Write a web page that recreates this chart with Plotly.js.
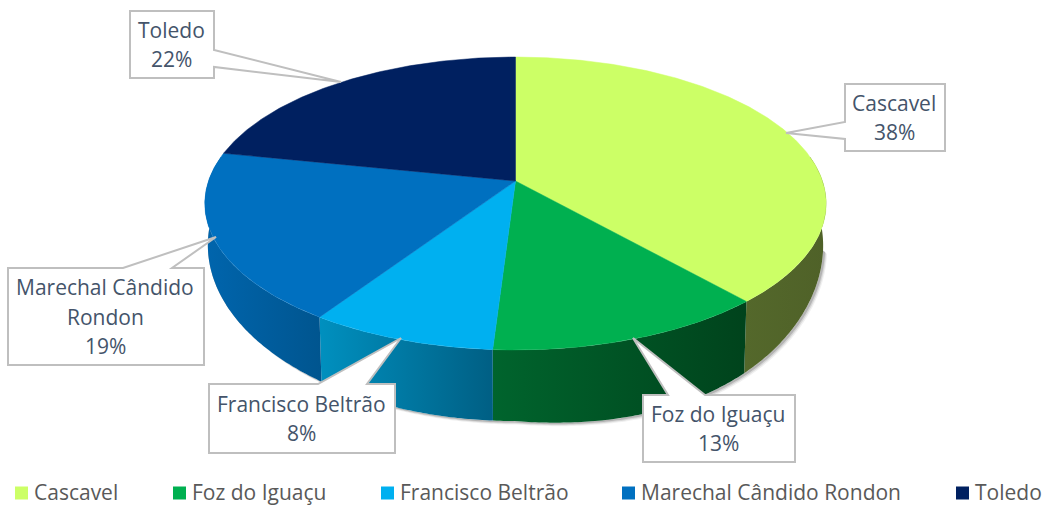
<!DOCTYPE html>
<html>
<head>
<meta charset="utf-8">
<script src="https://cdn.plot.ly/plotly-3.0.1.min.js"></script>
<style>html,body{margin:0;padding:0;background:#fff}#chart{width:1047px;height:507px}</style>
</head>
<body>
<div id="chart"></div>
<script>
// ---- data ----
const categories = ["Cascavel", "Foz do Iguaçu", "Francisco Beltrão", "Marechal Cândido Rondon", "Toledo"];
const shares = [38.4, 12.6, 8.4, 18.8, 21.8];
const calloutLines = [["Cascavel"], ["Foz do Iguaçu"], ["Francisco Beltrão"], ["Marechal Cândido", "Rondon"], ["Toledo"]];

// ---- styles ----
const topColors = ["#ccff66", "#00b050", "#00b0f0", "#0070c0", "#002060"];
const wallStops = [
  ["#54682b", "#4f6128"],
  ["#00642d", "#00431c"],
  ["#0090bf", "#005f84"],
  ["#0065ad", "#00558f"],
  ["#001a50", "#001a50"]
];

// ---- pie geometry (perspective disc, pixel-scaled axes) ----
const CX = 515.5, CY = 181, A = 307, B = 143, K = 0.1536;
const BASE_CY = 218, BASE_A = 304, BASE_B = 171.9;
const WALL_FROM = 80 * Math.PI / 180, WALL_TO = 280 * Math.PI / 180;
function topPoint(t) {
  const w = 1 + K * Math.cos(t);
  return [CX + A * Math.sin(t) / w, CY - B * Math.cos(t) / w];
}
function basePoint(t) {
  const u = Math.sin(t), v = -Math.cos(t), w = 1 - K * v;
  const skew = u > 0 ? 28 * u * v * v : 0;
  return [CX + BASE_A * u / w, BASE_CY + BASE_B * v / w + skew];
}
function arc(t0, t1, fn) {
  const n = Math.max(2, Math.ceil(Math.abs(t1 - t0) / 0.01)), pts = [];
  for (let i = 0; i <= n; i++) pts.push(fn(t0 + (t1 - t0) * i / n));
  return pts;
}
const total = shares.reduce((a, b) => a + b, 0);
const traces = [];
let acc = 0;
const spans = shares.map(v => { const s = [acc, acc + v / total * 2 * Math.PI]; acc = s[1]; return s; });

// soft shadow under the wall
[[4, 3.5, 0.06], [3, 2.5, 0.10], [2, 1.5, 0.16]].forEach(([dx, dy, o]) => {
  const outer = arc(1.75, WALL_TO, basePoint).map(p => [p[0] + dx, p[1] + dy]);
  const pts = outer.concat(arc(WALL_TO, 1.75, basePoint));
  traces.push({
    type: "scatter", mode: "none", fill: "toself", showlegend: false, hoverinfo: "skip",
    x: pts.map(p => p[0]), y: pts.map(p => p[1]), fillcolor: `rgba(0,0,0,${o})`
  });
});

// side walls
spans.forEach((s, i) => {
  const a = Math.max(s[0], WALL_FROM), b = Math.min(s[1], WALL_TO);
  if (b <= a) return;
  const pts = arc(a, b, topPoint).concat(arc(b, a, basePoint));
  traces.push({
    type: "scatter", mode: "none", fill: "toself", showlegend: false, hoverinfo: "skip",
    x: pts.map(p => p[0]), y: pts.map(p => p[1]),
    fillgradient: { type: "horizontal", colorscale: [[0, wallStops[i][0]], [1, wallStops[i][1]]] }
  });
});

// top slices
spans.forEach((s, i) => {
  const pts = [[CX, CY]].concat(arc(s[0], s[1], topPoint)).concat([[CX, CY]]);
  traces.push({
    type: "scatter", mode: "lines", fill: "toself", name: categories[i], showlegend: false,
    x: pts.map(p => p[0]), y: pts.map(p => p[1]), text: categories[i], hoverinfo: "text",
    line: { color: topColors[i], width: 0.5 }, fillcolor: topColors[i]
  });
});

// legend row
const legendX = [15, 173, 381, 622, 956];
const LEGEND_Y = 493;
const shapes = [], annotations = [];
categories.forEach((c, i) => {
  traces.push({
    type: "scatter", mode: "markers", name: c, showlegend: false, hoverinfo: "skip", cliponaxis: false,
    x: [legendX[i] + 6.5], y: [LEGEND_Y],
    marker: { symbol: "square", size: 13, color: topColors[i], line: { width: 0 } }
  });
  annotations.push({
    xref: "x", yref: "y", x: legendX[i] + 16.5, y: LEGEND_Y - 1, text: c, showarrow: false,
    xanchor: "left", yanchor: "middle", font: { family: "Open Sans", size: 21, color: "#595959" }
  });
});

// callouts: box [x0,y0,x1,y1], pointer base and tip
const calloutBoxes = [
  { box: [845, 84, 945, 151], wedge: [[845, 139], [786, 133], [845, 122]], side: "left" },
  { box: [643, 395, 795, 462], wedge: [[668, 395], [633, 338], [705, 395]], side: "top" },
  { box: [209, 384, 395, 453], wedge: [[318, 384], [401, 338], [367, 384]], side: "top" },
  { box: [8, 268, 204, 365], wedge: [[123, 268], [216, 237], [172, 268]], side: "top" },
  { box: [130, 11, 214, 78], wedge: [[214, 50], [341, 82], [214, 67]], side: "right" }
];
const LINE_GAP = 29.5;
calloutBoxes.forEach((c, i) => {
  const [x0, y0, x1, y1] = c.box, w = c.wedge.map(p => p.join(" "));
  let d;
  if (c.side === "top") d = `M${x0} ${y0} L${w[0]} L${w[1]} L${w[2]} L${x1} ${y0} L${x1} ${y1} L${x0} ${y1} Z`;
  if (c.side === "left") d = `M${x0} ${y0} L${x1} ${y0} L${x1} ${y1} L${x0} ${y1} L${w[0]} L${w[1]} L${w[2]} Z`;
  if (c.side === "right") d = `M${x0} ${y0} L${x1} ${y0} L${w[0]} L${w[1]} L${w[2]} L${x1} ${y1} L${x0} ${y1} Z`;
  shapes.push({ type: "path", xref: "x", yref: "y", path: d, fillcolor: "#ffffff", line: { color: "#bfbfbf", width: 2 } });
  const lines = calloutLines[i].concat([Math.round(shares[i]) + "%"]);
  const my = (y0 + y1) / 2;
  lines.forEach((t, j) => {
    annotations.push({
      xref: "x", yref: "y", x: (x0 + x1) / 2 - 1, y: my + (j - (lines.length - 1) / 2) * LINE_GAP,
      text: t, showarrow: false, xanchor: "center", yanchor: "middle",
      font: { family: "Open Sans", size: 21, color: "#44546a" }
    });
  });
});

Plotly.newPlot("chart", traces, {
  width: 1047, height: 507, margin: { l: 0, r: 0, t: 0, b: 0 },
  paper_bgcolor: "#ffffff", plot_bgcolor: "#ffffff", showlegend: false,
  xaxis: { range: [0, 1047], visible: false, fixedrange: true },
  yaxis: { range: [507, 0], visible: false, fixedrange: true },
  shapes, annotations, hovermode: "closest"
}, { displayModeBar: false });
</script>
</body>
</html>
